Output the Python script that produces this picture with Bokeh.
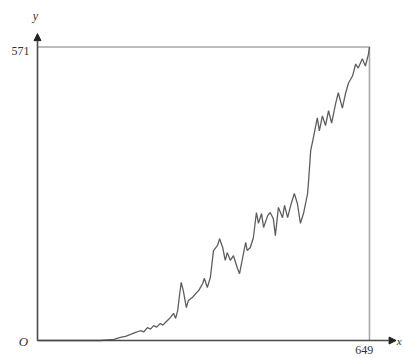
from bokeh.plotting import figure
from bokeh.models import Arrow, NormalHead, Range1d
from bokeh.core.properties import value
from bokeh.embed import file_html
from bokeh.resources import INLINE

# series
xs = [0, 84, 123, 149, 162, 172, 182, 192, 201, 208, 215, 221, 227, 233, 240, 245, 250, 255,
      260, 266, 270, 274, 278, 281, 285, 291, 295, 303, 309, 315, 323, 326, 332, 338, 344, 352,
      356, 362, 367, 371, 377, 383, 391, 395, 401, 407, 410, 416, 422, 428, 432, 438, 442, 450,
      455, 461, 465, 471, 479, 483, 489, 495, 502, 508, 514, 520, 528, 530, 534, 540, 547, 551,
      557, 563, 569, 575, 583, 588, 596, 602, 608, 616, 622, 627, 635, 641, 647, 649]
ys = [0, 0, 0, 2, 6, 8, 12, 16, 19, 17, 25, 22, 29, 26, 33, 30, 35, 40,
      45, 53, 43, 58, 91, 113, 97, 64, 78, 84, 91, 97, 111, 121, 103, 123, 175, 185,
      198, 181, 156, 171, 156, 165, 140, 130, 161, 191, 175, 181, 200, 249, 228, 247, 220, 243,
      249, 237, 204, 259, 239, 263, 239, 263, 286, 267, 228, 247, 286, 311, 369, 398, 433, 408,
      437, 418, 447, 423, 462, 482, 452, 480, 501, 515, 538, 530, 548, 534, 557, 571]

x_max = 649
y_max = 571
y_tick_label = "571"
x_tick_label = "649"
origin_label = "O"
x_name = "x"
y_name = "y"

W, H = 403, 358
p = figure(width=W, height=H, output_backend="svg", toolbar_location=None,
           x_range=Range1d(-72.33, 715.5), y_range=Range1d(-35.0, 661.5),
           min_border=0)
p.axis.visible = False
p.grid.visible = False
p.outline_line_color = None
p.background_fill_color = "white"

# reference box
p.line([0, x_max, x_max], [y_max, y_max, 0], line_color="#a8a8a8", line_width=1.6)

# series
p.line(xs, ys, line_color="#5e5e5e", line_width=1.3)

# axes with arrows
head_y = NormalHead(size=7, fill_color="#222222", line_color="#222222")
p.add_layout(Arrow(end=head_y, x_start=0, y_start=0, x_end=0, y_end=597,
                   line_color="#4a4a4a", line_width=1.6))
head_x = NormalHead(size=7, fill_color="#222222", line_color="#222222")
p.add_layout(Arrow(end=head_x, x_start=0, y_start=0, x_end=701, y_end=0,
                   line_color="#4a4a4a", line_width=1.6))

serif = value("Liberation Serif")
p.text(x=[-15.6], y=[564], text=[y_tick_label], text_font=serif, text_font_size="12px",
       text_align="right", text_baseline="middle", text_color="#333333")
p.text(x=[-3.9], y=[632], text=[y_name], text_font=serif, text_font_size="12px",
       text_font_style="italic", text_align="center", text_baseline="middle", text_color="#333333")
p.text(x=[-27.4], y=[-2], text=[origin_label], text_font=serif, text_font_size="13px",
       text_font_style="italic", text_align="center", text_baseline="middle", text_color="#333333")
p.text(x=[639], y=[-11], text=[x_tick_label], text_font=serif, text_font_size="12px",
       text_align="center", text_baseline="top", text_color="#333333")
p.text(x=[707], y=[-1], text=[x_name], text_font=serif, text_font_size="11px",
       text_font_style="italic", text_align="center", text_baseline="middle", text_color="#333333")

open("out.html", "w").write(file_html(p, INLINE))
